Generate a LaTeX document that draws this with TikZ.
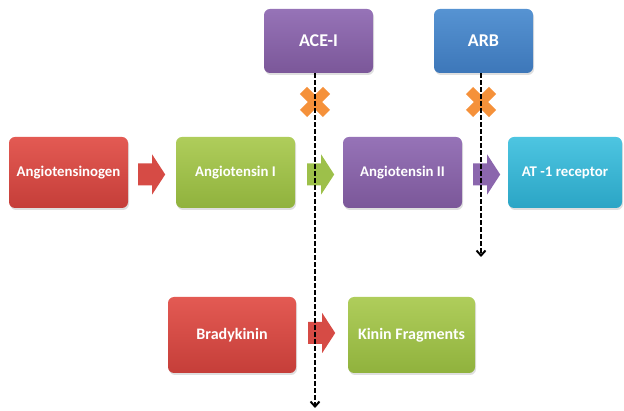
\documentclass[tikz,border=0pt]{standalone}
\usepackage{fontspec}
\setmainfont{Carlito}
\usetikzlibrary{arrows.meta,shadows,calc}

\definecolor{redtop}{HTML}{E35A53}
\definecolor{redbot}{HTML}{C53E39}
\definecolor{redarr}{HTML}{D64B45}
\definecolor{greentop}{HTML}{AFCD5B}
\definecolor{greenbot}{HTML}{90B23D}
\definecolor{greenarr}{HTML}{9DC04A}
\definecolor{purpletop}{HTML}{9673B7}
\definecolor{purplebot}{HTML}{7B5799}
\definecolor{purplearr}{HTML}{8B66AD}
\definecolor{bluetop}{HTML}{5693D2}
\definecolor{bluebot}{HTML}{3D77B9}
\definecolor{cyantop}{HTML}{4DC5E1}
\definecolor{cyanbot}{HTML}{2BA5C5}
\definecolor{xorange}{HTML}{F5913A}

\begin{document}
\begin{tikzpicture}[x=1pt, y=-1pt, >={Straight Barb[length=5pt,width=9pt]},
  box/.style={rounded corners=6pt, text=white, minimum width=119pt, minimum height=71pt,
    font=\bfseries\fontsize{14.8}{17}\selectfont,
    drop shadow={opacity=0.25, shadow xshift=1pt, shadow yshift=-2pt}},
  topbox/.style={minimum width=109pt, minimum height=64pt, font=\bfseries\fontsize{18}{21}\selectfont},
  lowbox/.style={minimum width=128pt, minimum height=76pt, font=\bfseries\fontsize{16}{19}\selectfont},
  redbox/.style={box, top color=redtop, bottom color=redbot},
  greenbox/.style={box, top color=greentop, bottom color=greenbot},
  purplebox/.style={box, top color=purpletop, bottom color=purplebot},
  bluebox/.style={box, top color=bluetop, bottom color=bluebot},
  cyanbox/.style={box, top color=cyantop, bottom color=cyanbot},
  inhib/.style={->, line width=2pt, dash pattern=on 4.5pt off 2.5pt},
  cross/.style={draw=xorange, line width=10pt},
  barrow/.pic={\path[pic actions] (0,-11) -- (14,-11) -- (14,-20) -- (27,0) -- (14,20) -- (14,11) -- (0,11) -- cycle;}]
  \useasboundingbox (0,0) rectangle (624,411);

  % main pathway
  \node[redbox] (ang) at (68.5,172.5) {Angiotensinogen};
  \node[greenbox] (angI) at (235.5,172.5) {Angiotensin I};
  \node[purplebox] (angII) at (402.5,172.5) {Angiotensin II};
  \node[cyanbox, minimum width=114pt] (at1) at (565,172.5) {AT -1 receptor};

  % drugs
  \node[purplebox, topbox] (ace) at (318.5,41) {ACE-I};
  \node[bluebox, topbox, minimum width=99pt] (arb) at (483.5,41) {ARB};

  % kinin pathway
  \node[redbox, lowbox] (brady) at (232,335) {Bradykinin};
  \node[greenbox, lowbox, minimum width=127pt] (kinin) at (411.5,335) {Kinin Fragments};

  \pic[fill=redarr] at ($(ang.east)+(10,2)$) {barrow};
  \pic[fill=greenarr] at ($(angI.east)+(12,2)$) {barrow};
  \pic[fill=purplearr] at ($(angII.east)+(11,2)$) {barrow};
  \pic[fill=redarr] at ($(brady.east)+(12,-2)$) {barrow};

  % blocked steps
  \coordinate (acex) at (315,102);
  \coordinate (arbx) at (481,102);
  \draw[cross] ($(acex)+(-11.5,-11.5)$) -- ($(acex)+(11.5,11.5)$) ($(acex)+(-11.5,11.5)$) -- ($(acex)+(11.5,-11.5)$);
  \draw[cross] ($(arbx)+(-11.5,-11.5)$) -- ($(arbx)+(11.5,11.5)$) ($(arbx)+(-11.5,11.5)$) -- ($(arbx)+(11.5,-11.5)$);

  \coordinate (aceend) at (315,408);
  \coordinate (arbend) at (481,257);
  \draw[inhib] (ace.south -| aceend) -- (aceend);
  \draw[inhib] (arb.south -| arbend) -- (arbend);
\end{tikzpicture}
\end{document}
